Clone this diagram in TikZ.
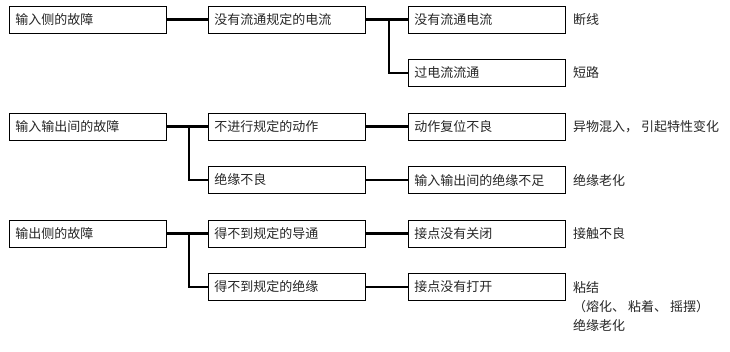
\documentclass[tikz,border=0pt]{standalone}
\usepackage{fontspec}
\setmainfont{Noto Sans CJK SC}
\begin{document}
\begin{tikzpicture}[x=1pt,y=-1pt,
  box/.style={draw,line width=0.9pt,anchor=west,inner xsep=6pt,inner ysep=0pt,
    text width=145pt,minimum height=27pt,align=left,text=black!85},
  note/.style={anchor=west,inner sep=0pt,text=black!85,align=left},
  link/.style={line width=2.2pt},
  every node/.append style={font=\fontsize{13}{19}\selectfont}]
\useasboundingbox (0,0) rectangle (730,351);
\node[box] (inFault) at (9,19.5) {输入侧的故障};
\node[box] (ioFault) at (9,126.5) {输入输出间的故障};
\node[box] (outFault) at (9,233.5) {输出侧的故障};
\node[box] (ruleCurrent) at (208,19.5) {没有流通规定的电流};
\node[box] (noAction) at (208,126.5) {不进行规定的动作};
\node[box] (badInsul) at (208,180) {绝缘不良};
\node[box] (noConduct) at (208,233.5) {得不到规定的导通};
\node[box] (noIsolate) at (208,287) {得不到规定的绝缘};
\node[box] (noFlow) at (408,19.5) {没有流通电流};
\node[box] (overFlow) at (408,73) {过电流流通};
\node[box] (noReset) at (408,126.5) {动作复位不良};
\node[box] (ioInsul) at (408,180) {输入输出间的绝缘不足};
\node[box] (notClosed) at (408,233.5) {接点没有关闭};
\node[box] (notOpen) at (408,287) {接点没有打开};
\node[note] (broken) at (573,19.5) {断线};
\node[note] (shorted) at (573,73) {短路};
\node[note] (foreign) at (573,126.5) {异物混入， 引起特性变化};
\node[note] (aging) at (573,180) {绝缘老化};
\node[note] (contact) at (573,233.5) {接触不良};
\node[note,anchor=north west] (stuck) at (573,281) {粘结\\（熔化、 粘着、 摇摆）\\绝缘老化};
\draw[link] (inFault.east) -- (ruleCurrent.west);
\draw[link] (ruleCurrent.east) -- (noFlow.west);
\draw[link] ([xshift=23pt]ruleCurrent.east) |- (overFlow.west);
\draw[link] (ioFault.east) -- (noAction.west);
\draw[link] ([xshift=22pt]ioFault.east) |- (badInsul.west);
\draw[link] (noAction.east) -- (noReset.west);
\draw[link] (badInsul.east) -- (ioInsul.west);
\draw[link] (outFault.east) -- (noConduct.west);
\draw[link] ([xshift=22pt]outFault.east) |- (noIsolate.west);
\draw[link] (noConduct.east) -- (notClosed.west);
\draw[link] (noIsolate.east) -- (notOpen.west);
\end{tikzpicture}
\end{document}
